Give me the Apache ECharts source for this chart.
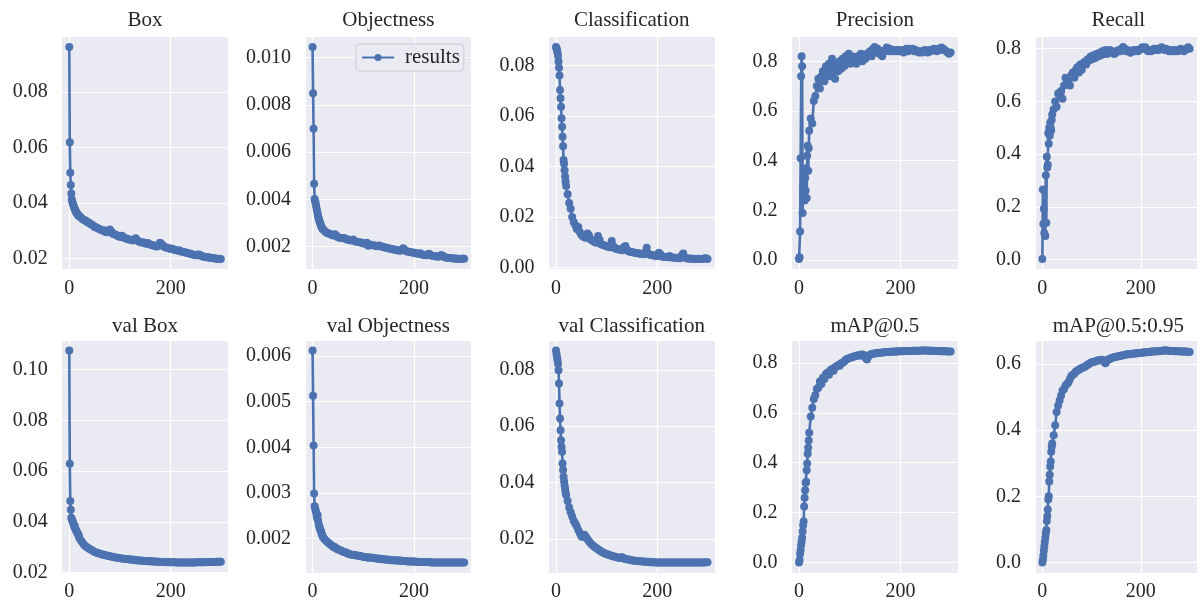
<!DOCTYPE html>
<html><head><meta charset="utf-8">
<script src="https://cdn.jsdelivr.net/npm/echarts@6/dist/echarts.min.js"></script>
<style>html,body{margin:0;padding:0;background:#fff}#c{width:1200px;height:605px}</style>
</head><body><div id="c"></div>
<script>
// ---- data (epochs and per-plot values) ----
const epochs=[0,1,2,3,4,5,6,7,8,9,10,11,12,13,14,15,16,17,18,19,
20,23,26,29,32,35,38,41,44,47,50,53,56,59,62,65,68,71,74,77,
80,83,86,89,92,95,98,101,104,107,110,113,116,119,122,125,128,131,134,137,
140,143,146,149,152,155,158,161,164,167,170,173,176,179,182,185,188,191,194,197,
200,203,206,209,212,215,218,221,224,227,230,233,236,239,242,245,248,251,254,257,
260,263,266,269,272,275,278,281,284,287,290,293,296,299];

const titles=['Box','Objectness','Classification','Precision','Recall',
'val Box','val Objectness','val Classification','mAP@0.5','mAP@0.5:0.95'];

const box=[.0961,.0618,.0508,.0464,.0434,.0412,.0404,.0398,.0392,.0386,.0381,.0377,.0372,.0368,.0366,.0362,.0360,.0357,.0355,.0353,
.0352,.0347,.0342,.0338,.0336,.0331,.0329,.0325,.0322,.0318,
.0313,.0312,.0308,.0306,.0303,.0300,.0301,.0296,.0294,.0296,
.0304,.0297,.0289,.0287,.0285,.0281,.0279,.0277,.0281,.0275,
.0273,.0271,.0269,.0268,.0266,.0264,.0267,.0272,.0265,.0261,
.0259,.0257,.0258,.0254,.0253,.0255,.0251,.0249,.0247,.0246,
.0244,.0243,.0245,.0256,.0252,.0245,.0241,.0239,.0237,.0236,
.0234,.0235,.0232,.0230,.0229,.0227,.0228,.0225,.0223,.0222,
.0221,.0219,.0218,.0216,.0215,.0213,.0212,.0211,.0214,.0213,
.0209,.0207,.0206,.0205,.0203,.0204,.0202,.0201,.0200,.0200,
.0199,.0198,.0199,.0198];

const obj=[.01044,.00849,.00699,.00466,.00401,.00392,.00385,.00372,.00360,.00350,.00338,.00328,.00320,.00312,.00305,.00299,.00293,.00287,.00282,.00278,
.00274,.00268,.00262,.00258,.00255,.00252,.00250,.00247,.00252,.00246,
.00240,.00238,.00236,.00235,.00236,.00233,.00230,.00229,.00227,.00226,
.00230,.00224,.00221,.00220,.00218,.00217,.00215,.00213,.00212,.00216,
.00204,.00209,.00207,.00206,.00205,.00203,.00202,.00205,.00203,.00199,
.00198,.00196,.00195,.00193,.00192,.00190,.00189,.00188,.00186,.00185,
.00184,.00183,.00187,.00193,.00186,.00180,.00179,.00177,.00176,.00175,
.00174,.00172,.00171,.00170,.00172,.00168,.00166,.00165,.00164,.00167,
.00170,.00163,.00161,.00160,.00159,.00158,.00157,.00160,.00165,.00161,
.00155,.00154,.00153,.00152,.00152,.00151,.00150,.00150,.00149,.00149,
.00148,.00148,.00150,.00149];

const cls=[.0872,.0868,.0860,.0852,.0838,.0815,.0790,.0760,.0702,.0670,.0636,.0590,.0557,.0517,.0480,.0425,.0410,.0385,.0360,.0340,
.0322,.0290,.0255,.0232,.0200,.0180,.0168,.0152,.0160,.0140,
.0130,.0124,.0120,.0118,.0135,.0128,.0112,.0108,.0104,.0100,
.0098,.0125,.0110,.0092,.0090,.0088,.0085,.0083,.0082,.0080,
.0105,.0085,.0076,.0074,.0072,.0071,.0069,.0068,.0080,.0085,
.0070,.0064,.0062,.0061,.0060,.0058,.0057,.0056,.0055,.0054,
.0053,.0052,.0060,.0078,.0055,.0050,.0049,.0048,.0047,.0046,
.0046,.0058,.0052,.0044,.0043,.0042,.0042,.0041,.0046,.0041,
.0040,.0039,.0039,.0038,.0038,.0037,.0047,.0055,.0040,.0037,
.0036,.0036,.0035,.0035,.0035,.0034,.0034,.0035,.0034,.0034,
.0035,.0036,.0037,.0034];

const precision=[.005,.012,.115,.41,.74,.82,.78,.19,.30,.26,.35,.24,.33,.28,.37,.25,.42,.46,.36,.45,
.52,.57,.55,.64,.66,.70,.73,.69,.74,.76,
.72,.78,.75,.79,.74,.81,.77,.73,.79,.76,
.80,.77,.81,.78,.82,.80,.83,.79,.82,.80,
.81,.79,.82,.81,.83,.80,.82,.81,.83,.82,
.84,.82,.85,.857,.84,.85,.83,.84,.82,.84,
.845,.855,.84,.85,.845,.84,.845,.84,.845,.84,
.845,.84,.835,.845,.85,.84,.85,.845,.85,.84,
.845,.84,.835,.84,.835,.84,.845,.84,.835,.845,
.84,.845,.85,.845,.84,.85,.845,.855,.85,.845,
.84,.835,.83,.835];

const recall=[.003,.266,.135,.193,.10,.14,.09,.32,.14,.39,.35,.36,.48,.44,.50,.47,.52,.50,.49,.53,
.55,.57,.60,.58,.63,.62,.64,.61,.66,.69,
.67,.68,.66,.70,.71,.69,.72,.73,.71,.74,
.72,.745,.75,.74,.76,.755,.77,.76,.775,.765,
.78,.77,.785,.775,.79,.78,.795,.78,.79,.795,
.785,.79,.78,.785,.79,.795,.79,.80,.806,.80,
.79,.795,.79,.785,.79,.795,.79,.795,.79,.795,
.80,.805,.80,.805,.795,.79,.795,.79,.795,.80,
.795,.80,.795,.80,.805,.80,.795,.80,.795,.79,
.795,.79,.795,.79,.795,.79,.795,.80,.795,.79,
.795,.80,.805,.80];

const valBox=[.1075,.0629,.0482,.0448,.0416,.0410,.0405,.0400,.0392,.0388,.0380,.0384,.0372,.0368,.0365,.0360,.0356,.0352,.0349,.0344,
.0335,.0326,.0318,.0310,.0304,.0300,.0296,.0292,.0289,.0285,
.0281,.0279,.0277,.0275,.0273,.0271,.0270,.0268,.0267,.0265,
.0264,.0263,.0261,.0260,.0259,.0258,.0257,.0256,.0255,.0254,
.0253,.0253,.0252,.0251,.0251,.0250,.0250,.0249,.0249,.0248,
.0248,.0247,.0247,.0246,.0246,.0245,.0245,.0245,.0244,.0244,
.0244,.0243,.0243,.0243,.0242,.0242,.0242,.0242,.0241,.0241,
.0241,.0241,.0241,.0241,.0240,.0240,.0240,.0240,.0240,.0240,
.0240,.0240,.0240,.0240,.0240,.0240,.0240,.0241,.0241,.0241,
.0241,.0241,.0241,.0241,.0242,.0242,.0242,.0242,.0242,.0242,
.0243,.0243,.0243,.0243];

const valObj=[.00612,.00513,.00404,.00299,.00271,.00268,.00262,.00258,.00250,.00245,.00252,.00240,.00232,.00228,.00224,.00220,.00218,.00214,.00210,.00208,
.00204,.00200,.00196,.00193,.00190,.00187,.00185,.00182,.00182,.00178,
.00177,.00175,.00174,.00172,.00171,.00170,.00168,.00167,.00166,.00165,
.00165,.00164,.00163,.00163,.00162,.00162,.00161,.00160,.00160,.00159,
.00159,.00159,.00158,.00158,.00157,.00157,.00156,.00156,.00156,.00155,
.00155,.00155,.00154,.00154,.00154,.00153,.00153,.00153,.00152,.00152,
.00152,.00152,.00151,.00151,.00151,.00151,.00150,.00150,.00150,.00150,
.00150,.00150,.00149,.00149,.00149,.00149,.00149,.00149,.00149,.00149,
.00149,.00148,.00148,.00148,.00148,.00148,.00148,.00148,.00148,.00148,
.00148,.00148,.00148,.00148,.00148,.00148,.00148,.00148,.00148,.00148,
.00148,.00148,.00148,.00148];

const valCls=[.0868,.0856,.0845,.0835,.0821,.0798,.0751,.0680,.0627,.0586,.0550,.0527,.0509,.0468,.0445,.0421,.0405,.0390,.0378,.0365,
.0356,.0335,.0312,.0295,.0280,.0265,.0255,.0245,.0232,.0221,
.0210,.0207,.0215,.0208,.0200,.0192,.0186,.0180,.0175,.0171,
.0167,.0163,.0160,.0156,.0153,.0150,.0148,.0146,.0144,.0142,
.0140,.0139,.0137,.0136,.0134,.0133,.0134,.0135,.0131,.0129,
.0128,.0127,.0126,.0125,.0124,.0123,.0123,.0122,.0121,.0121,
.0120,.0120,.0119,.0119,.0119,.0118,.0118,.0118,.0118,.0117,
.0117,.0117,.0117,.0117,.0117,.0117,.0117,.0117,.0117,.0117,
.0117,.0117,.0117,.0117,.0117,.0117,.0117,.0117,.0117,.0117,
.0117,.0117,.0117,.0117,.0117,.0117,.0117,.0117,.0117,.0117,
.0117,.0117,.0118,.0118];

const map50=[.001,.010,.035,.050,.070,.085,.100,.125,.150,.165,.225,.260,.290,.320,.324,.370,.397,.436,.460,.489,
.520,.585,.620,.655,.670,.695,.700,.725,.715,.740,
.735,.755,.760,.752,.770,.775,.768,.782,.785,.790,
.788,.798,.800,.805,.812,.815,.818,.820,.822,.824,
.826,.828,.830,.828,.832,.833,.830,.820,.813,.825,
.832,.835,.836,.837,.838,.839,.840,.840,.841,.842,
.842,.843,.843,.844,.844,.844,.845,.845,.845,.846,
.846,.846,.846,.847,.847,.847,.847,.847,.848,.848,
.848,.848,.848,.848,.849,.849,.849,.849,.849,.848,
.848,.848,.848,.847,.847,.847,.846,.846,.846,.846,
.846,.845,.845,.845];

const map5095=[.000,.008,.020,.035,.048,.062,.075,.088,.098,.125,.140,.160,.190,.200,.245,.265,.290,.305,.335,.350,
.360,.385,.415,.455,.475,.490,.505,.520,.525,.535,
.540,.545,.555,.565,.568,.572,.578,.580,.583,.586,
.588,.590,.592,.595,.598,.601,.604,.606,.607,.608,
.610,.611,.612,.612,.613,.608,.603,.610,.614,.616,
.618,.620,.621,.622,.623,.624,.625,.626,.627,.628,
.629,.630,.630,.631,.631,.632,.632,.633,.633,.634,
.634,.635,.635,.636,.636,.637,.637,.638,.638,.638,
.639,.639,.639,.640,.640,.641,.641,.641,.641,.640,
.640,.640,.640,.639,.639,.639,.639,.638,.638,.638,
.638,.638,.637,.637];

const yTickStep=[0.02,0.002,0.02,0.2,0.2,0.02,0.001,0.02,0.2,0.2];
const yDecimals=[2,3,2,1,1,2,3,2,1,1];
const xTickStep=200;
const legendLabel='results';

// ---- layout / style ----
const seriesData=[box,obj,cls,precision,recall,valBox,valObj,valCls,map50,map5095];
const FONT='"Liberation Serif","Times New Roman",serif';
const TXT='#262626';
const BLUE='#4C72B0';
const colLeft=[61.7,305,548.4,791.5,1035];
const rowTop=[36.5,340];
const W=166.7,H=233;

function onStep(v,step){const r=v/step;return Math.abs(r-Math.round(r))<1e-6;}

const grid=[],xAxis=[],yAxis=[],series=[],title=[];
for(let i=0;i<10;i++){
  const r=Math.floor(i/5),c=i%5;
  grid.push({left:colLeft[c],top:rowTop[r],width:W,height:H,show:true,backgroundColor:'#EAEAF2',borderWidth:0,containLabel:false});
  const xf=epochs[epochs.length-1]-epochs[0];
  xAxis.push({type:'value',gridIndex:i,min:epochs[0]-0.05*xf,max:epochs[epochs.length-1]+0.05*xf,
    minInterval:xTickStep,maxInterval:xTickStep,
    axisLine:{show:false},axisTick:{show:false},
    splitLine:{show:true,lineStyle:{color:'#ffffff',width:1.2}},
    axisLabel:{fontFamily:FONT,fontSize:20,color:TXT,margin:9,
      formatter:v=>onStep(v,xTickStep)?String(Math.round(v)):''}});
  const step=yTickStep[i],dec=yDecimals[i];
  yAxis.push({type:'value',gridIndex:i,
    min:v=>v.min-0.05*(v.max-v.min),max:v=>v.max+0.05*(v.max-v.min),
    minInterval:step,maxInterval:step,splitNumber:5,
    axisLine:{show:false},axisTick:{show:false},
    splitLine:{show:true,lineStyle:{color:'#ffffff',width:1.2}},
    axisLabel:{fontFamily:FONT,fontSize:20,color:TXT,margin:14,
      formatter:v=>onStep(v,step)?v.toFixed(dec):''}});
  const arr=seriesData[i];
  series.push({type:'line',name:legendLabel,xAxisIndex:i,yAxisIndex:i,
    data:epochs.map((e,j)=>[e,arr[j]]),
    symbol:'circle',symbolSize:8,showSymbol:true,showAllSymbol:true,
    lineStyle:{color:BLUE,width:2.6},itemStyle:{color:BLUE,borderWidth:0},
    emphasis:{disabled:true},animation:false,clip:false});
  title.push({text:titles[i],left:colLeft[c]+W/2,top:r===0?10:316,textAlign:'center',padding:0,
    textStyle:{fontFamily:FONT,fontSize:21,fontWeight:'normal',color:TXT}});
}

const chart=echarts.init(document.getElementById('c'),null,{renderer:'canvas'});
chart.setOption({
  animation:false,
  backgroundColor:'#ffffff',
  title:title,
  legend:{data:[legendLabel],left:356,top:44,itemWidth:32,itemHeight:9,
    backgroundColor:'rgba(234,234,242,0.8)',borderColor:'#cccccc',borderWidth:1,borderRadius:4,
    padding:[3,4,3,5],
    textStyle:{fontFamily:FONT,fontSize:21,color:TXT,padding:[0,0,0,6]}},
  grid:grid,xAxis:xAxis,yAxis:yAxis,series:series
});
</script></body></html>
